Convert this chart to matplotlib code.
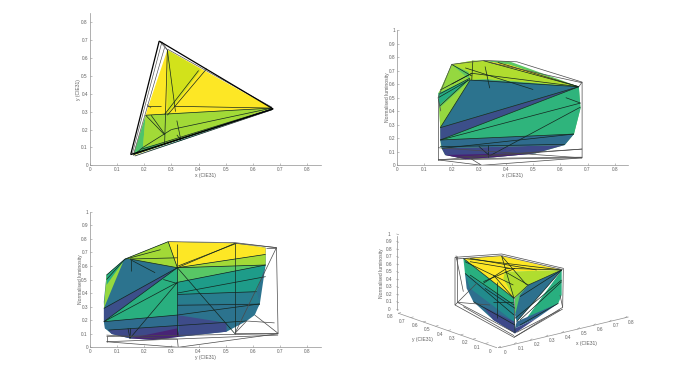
"""
Gamut volume seen from four sides: xy, xz, yz and a 3D view.
"""

import matplotlib
matplotlib.use("Agg")
import matplotlib.pyplot as plt
from matplotlib.collections import LineCollection, PolyCollection

plt.rcParams["font.family"] = ["Liberation Sans", "DejaVu Sans"]

W, H = 694, 390
TEXT = "#606060"
AXIS = "#909090"
EDGE = "#14261f"
HULL = "#4a4a4a"

# top view, x / y
xy_faces = [
    [(.16, .055), (.205, .28), (.215, .33), (.285, .645), (.67, .32)],
    [(.285, .645), (.41, .535), (.285, .285)],
    [(.205, .28), (.285, .29), (.67, .32), (.27, .125), (.195, .10)],
    [(.195, .10), (.27, .125), (.67, .32), (.33, .145), (.17, .065)],
    [(.16, .058), (.205, .28), (.195, .10), (.27, .125), (.17, .065)],
    [(.165, .055), (.67, .315), (.33, .135)],
]
xy_levels = [1.0, .93, .86, .80, .72, .50]
xy_edges = [
    [(.285, .645), (.275, .12)], [(.285, .645), (.315, .30)], [(.40, .53), (.275, .285)],
    [(.43, .54), (.285, .28)], [(.21, .33), (.26, .33)], [(.205, .28), (.67, .32)],
    [(.31, .33), (.67, .32)], [(.205, .28), (.275, .17)], [(.225, .28), (.275, .175)],
    [(.195, .10), (.30, .20)], [(.30, .20), (.67, .32)], [(.16, .06), (.67, .315)],
    [(.17, .065), (.67, .315)], [(.19, .09), (.67, .315)], [(.32, .25), (.335, .14)],
    [(.32, .17), (.335, .14)], [(.165, .052), (.67, .31)], [(.16, .055), (.195, .10)],
]
xy_inner = [
    [(.265, .69), (.285, .645)], [(.265, .69), (.155, .06)], [(.275, .66), (.16, .06)],
    [(.255, .695), (.285, .645)], [(.21, .34), (.225, .32)], [(.285, .65), (.67, .325)],
]
xy_hull = [
    [(.255, .695), (.675, .315)], [(.675, .315), (.15, .06)], [(.15, .06), (.255, .695)],
]

# side view, x / luminosity
xz_faces = [
    [(.158, .556), (.20, .746), (.278, .773), (.41, .77), (.668, .581), (.674, .421),
     (.65, .231), (.616, .15), (.508, .088), (.354, .059), (.25, .046), (.176, .076),
     (.16, .138), (.158, .285), (.151, .532)],
    [(.158, .278), (.268, .63), (.33, .635), (.668, .581)],
    [(.158, .278), (.668, .581), (.158, .187)],
    [(.158, .187), (.668, .581), (.674, .421), (.65, .231)],
    [(.158, .187), (.65, .231), (.616, .15), (.164, .125)],
    [(.164, .125), (.616, .15), (.508, .088), (.354, .059), (.25, .046), (.176, .076), (.16, .138)],
    [(.176, .076), (.35, .085), (.508, .088), (.354, .059), (.25, .046)],
    [(.158, .278), (.154, .421), (.268, .63)],
    [(.151, .532), (.268, .638), (.154, .445)],
    [(.158, .556), (.20, .746), (.262, .64), (.151, .532)],
    [(.20, .746), (.278, .773), (.317, .773), (.668, .581), (.33, .635), (.268, .63), (.262, .69)],
    [(.317, .773), (.41, .745), (.668, .581), (.47, .69)],
    [(.268, .638), (.668, .581), (.33, .635)],
]
xz_levels = [.75, .38, .24, .65, .35, .22, .09, .84, .62, .84, .88, 1.0, .74]
xz_edges = [
    [(.158, .278), (.668, .581)], [(.158, .187), (.668, .581)], [(.158, .187), (.65, .231)],
    [(.164, .125), (.65, .231)], [(.158, .187), (.674, .46)], [(.34, .07), (.674, .43)],
    [(.158, .278), (.268, .63)], [(.268, .63), (.668, .581)], [(.20, .60), (.274, .68)],
    [(.274, .68), (.668, .581)], [(.278, .773), (.274, .63)], [(.20, .746), (.274, .66)],
    [(.323, .73), (.34, .57)], [(.25, .72), (.50, .56)], [(.317, .773), (.668, .581)],
    [(.37, .76), (.668, .581)], [(.151, .50), (.268, .635)], [(.158, .556), (.274, .68)],
    [(.30, .14), (.34, .07)], [(.335, .15), (.335, .06)], [(.62, .50), (.674, .46)],
    [(.157, .44), (.26, .63)], [(.157, .138), (.616, .155)], [(.158, .53), (.268, .645)],
]
xz_hull = [
    [(.15, .50), (.20, .746), (.32, .775), (.44, .765), (.68, .615), (.68, .055)],
    [(.15, .50), (.15, .04)], [(.15, .04), (.31, 0)], [(.31, 0), (.68, .055)],
    [(.15, .04), (.68, .12)], [(.15, .04), (.68, .055)], [(.15, .13), (.68, .055)],
    [(.22, .06), (.68, .12)], [(.27, .05), (.68, .06)], [(.34, .76), (.68, .61)],
    [(.31, 0), (.27, .05)], [(.68, .615), (.668, .581)], [(.15, .50), (.16, .40)],
]

# side view, y / luminosity
yz_faces = [
    [(.061, .533), (.129, .651), (.288, .779), (.534, .767), (.647, .735), (.647, .607),
     (.626, .324), (.607, .238), (.577, .194), (.503, .115), (.331, .078), (.233, .054),
     (.147, .066), (.08, .098), (.055, .140), (.051, .336)],
    [(.288, .779), (.534, .767), (.647, .735), (.647, .685), (.322, .587)],
    [(.322, .587), (.647, .685), (.647, .607)],
    [(.322, .587), (.647, .607), (.322, .479)],
    [(.322, .479), (.647, .607), (.614, .41), (.322, .39)],
    [(.322, .39), (.614, .41), (.626, .324), (.322, .32)],
    [(.322, .31), (.626, .318), (.577, .194), (.322, .238)],
    [(.051, .287), (.147, .651), (.322, .587)],
    [(.051, .287), (.322, .587), (.051, .189)],
    [(.051, .189), (.322, .587), (.322, .238)],
    [(.051, .189), (.322, .238), (.322, .159), (.068, .127), (.055, .140)],
    [(.322, .238), (.503, .18), (.503, .115), (.331, .078)],
    [(.068, .127), (.322, .159), (.322, .09), (.147, .066), (.08, .098)],
    [(.147, .066), (.322, .14), (.331, .078), (.233, .054)],
    [(.051, .287), (.061, .533), (.122, .63)],
    [(.061, .533), (.129, .651), (.061, .46)],
    [(.129, .651), (.288, .779), (.322, .587), (.147, .651)],
]
yz_levels = [.38, 1.0, .86, .74, .55, .42, .38, .38, .24, .63, .35, .23, .22, .10, .84, .62, .86]
yz_edges = [
    [(.051, .287), (.322, .587)], [(.051, .189), (.322, .587)], [(.051, .189), (.322, .238)],
    [(.322, .238), (.626, .32)], [(.068, .127), (.577, .194)], [(.147, .066), (.322, .479)],
    [(.051, .189), (.322, .479)], [(.322, .39), (.614, .41)], [(.322, .31), (.626, .318)],
    [(.322, .40), (.647, .521)], [(.322, .479), (.647, .607)], [(.322, .587), (.647, .607)],
    [(.322, .587), (.647, .685)], [(.322, .587), (.534, .767)], [(.325, .6), (.54, .767)],
    [(.322, .76), (.322, .08)], [(.534, .767), (.534, .10)], [(.288, .779), (.322, .587)],
    [(.129, .651), (.288, .779)], [(.147, .651), (.322, .587)], [(.15, .645), (.24, .55)],
    [(.15, .645), (.15, .56)], [(.13, .65), (.26, .72)], [(.322, .587), (.534, .10)],
    [(.14, .14), (.147, .066)], [(.147, .066), (.15, .14)], [(.27, .50), (.322, .47)],
    [(.061, .533), (.129, .651)], [(.061, .50), (.129, .651)], [(.147, .651), (.322, .66)],
]
yz_hull = [
    [(.288, .779), (.534, .772), (.687, .735), (.693, .10)],
    [(.061, .041), (.325, 0), (.693, .10)], [(.061, .041), (.061, .08)],
    [(.061, .041), (.693, .09)], [(.061, .08), (.693, .10)], [(.534, .103), (.693, .10)],
    [(.687, .735), (.534, .103)], [(.607, .238), (.693, .103)], [(.534, .103), (.577, .194)],
    [(.061, .09), (.322, .06)], [(.322, .06), (.325, 0)], [(.577, .194), (.68, .18)],
    [(.647, .735), (.687, .735)], [(.534, .767), (.687, .735)],
]

# 3D view, faces already projected on the view plane
view_faces = [
    [(280, 100), (395, 93), (575, 135), (420, 140), (432, 220)],
    [(405, 140), (575, 135), (475, 180), (432, 220), (400, 160)],
    [(435, 220), (470, 185), (435, 270)],
    [(285, 145), (432, 270), (435, 325), (370, 285), (310, 230), (290, 190)],
    [(280, 100), (432, 220), (432, 270), (285, 145)],
    [(285, 145), (432, 240), (432, 290), (300, 190)],
    [(340, 245), (432, 290), (435, 325), (370, 285)],
    [(475, 180), (575, 135), (440, 290), (435, 270), (450, 210)],
    [(575, 135), (575, 210), (565, 235), (455, 300)],
    [(440, 290), (565, 235), (500, 280), (435, 310)],
    [(435, 310), (500, 280), (435, 325)],
]
view_levels = [1.0, .88, .74, .36, .63, .48, .22, .37, .63, .33, .22]
view_edges = [
    [(280, 100), (575, 135)], [(280, 100), (432, 220)], [(395, 93), (432, 220)],
    [(410, 130), (575, 135)], [(410, 130), (340, 175)], [(370, 150), (432, 220)],
    [(475, 180), (575, 135)], [(432, 220), (475, 180)], [(432, 220), (435, 325)],
    [(285, 145), (432, 270)], [(310, 230), (435, 300)], [(380, 170), (380, 280)],
    [(450, 215), (575, 135)], [(435, 280), (575, 165)], [(450, 285), (575, 170)],
    [(300, 110), (420, 130)], [(340, 170), (435, 130)], [(395, 93), (470, 180)],
    [(345, 190), (435, 250)], [(370, 230), (430, 230)], [(285, 110), (430, 180)],
    [(300, 150), (432, 240)], [(300, 100), (500, 135)], [(440, 290), (575, 135)],
    [(450, 300), (565, 235)], [(405, 140), (475, 180)],
]
view_hull = [
    [(255, 97), (395, 87), (580, 130), (578, 247), (432, 337), (255, 240), (255, 97)],
    [(258, 92), (280, 200)], [(255, 240), (320, 175)], [(262, 232), (432, 322)],
    [(262, 232), (360, 240)], [(440, 322), (570, 255)], [(258, 102), (395, 92)],
    [(395, 92), (578, 134)], [(280, 245), (432, 332)], [(432, 337), (578, 252)],
    [(578, 247), (570, 210)], [(262, 92), (262, 232)],
]

x_ticks = [0, .1, .2, .3, .4, .5, .6, .7, .8]
y_ticks = [0, .1, .2, .3, .4, .5, .6, .7, .8]
z_ticks = [0, .1, .2, .3, .4, .5, .6, .7, .8, .9, 1]


def add_axes(fig, left, top, right, bottom):
    return fig.add_axes([left / W, 1 - bottom / H, (right - left) / W, (bottom - top) / H])


def draw_flat(ax, faces, levels, edges, hulls, hull_width=.5):
    ax.add_collection(PolyCollection(faces, array=levels, cmap="viridis", clim=(0, 1),
                                     edgecolors="none", zorder=2))
    ax.add_collection(LineCollection(edges, colors=EDGE, linewidths=.5, zorder=3))
    ax.add_collection(LineCollection(hulls, colors=HULL, linewidths=hull_width, zorder=4))


def style_axes(ax, xlabel, ylabel, xlim, ylim, xticks, yticks, ypad=.5):
    ax.set_xlim(xlim)
    ax.set_ylim(ylim)
    ax.set_xticks(xticks, [f"{t:g}" for t in xticks])
    ax.set_yticks(yticks, [f"{t:g}" for t in yticks])
    ax.tick_params(direction="in", length=1.5, width=.4, labelsize=3.4, pad=1.5,
                   colors=AXIS, labelcolor=TEXT)
    ax.set_xlabel(xlabel, fontsize=3.6, color=TEXT, labelpad=.5)
    ax.set_ylabel(ylabel, fontsize=3.6, color=TEXT, labelpad=ypad)
    for side in ["top", "right"]:
        ax.spines[side].set_visible(False)
    for side in ["left", "bottom"]:
        ax.spines[side].set_color(AXIS)
        ax.spines[side].set_linewidth(.5)


def project(x, y):
    # view plane position of a floor value
    return 385 + 475 * x - 375 * y, 368 - 112 * x - 129 * y


def draw_view_axes(ax):
    corner = project(0, 0)
    x_end = project(.82, 0)
    y_end = project(0, .8)
    ax.plot([corner[0] + 5, x_end[0]], [corner[1], x_end[1]], color=AXIS, lw=.5)
    ax.plot([corner[0] - 5, y_end[0]], [corner[1], y_end[1]], color=AXIS, lw=.5)
    ax.plot([80, 80], [255, 32], color=AXIS, lw=.5)
    for t in x_ticks:
        u, v = project(t, 0)
        ax.plot([u, u + 6], [v, v - 4], color=AXIS, lw=.4)
        ax.text(u + 20, v + 13, f"{t:g}", fontsize=3.4, color=TEXT, ha="center", va="center")
    for t in y_ticks:
        u, v = project(0, t)
        ax.plot([u, u + 7], [v, v - 2], color=AXIS, lw=.4)
        ax.text(u - 25, v + 11, f"{t:g}", fontsize=3.4, color=TEXT, ha="center", va="center")
    for t in z_ticks:
        v = 253 - 226 * t
        ax.plot([80, 86], [v, v + 2], color=AXIS, lw=.4)
        ax.text(57, v, f"{t:g}", fontsize=3.4, color=TEXT, ha="center", va="center")
    ax.text(648, 357, "x (CIE31)", fontsize=3.6, color=TEXT, ha="center", va="center")
    ax.text(158, 342, "y (CIE31)", fontsize=3.6, color=TEXT, ha="center", va="center")
    ax.text(34, 145, "Normalised luminosity", fontsize=3.6, color=TEXT, ha="center", va="center",
            rotation=90)


fig = plt.figure(figsize=(W / 100, H / 100), dpi=100, facecolor="white")

ax1 = add_axes(fig, 90, 13.3, 320.7, 165.3)
draw_flat(ax1, xy_faces, xy_levels, xy_edges, xy_inner, hull_width=.45)
ax1.add_collection(LineCollection(xy_hull, colors="black", linewidths=.9, zorder=5))
style_axes(ax1, "x (CIE31)", "y (CIE31)", (0, .85), (0, .85), x_ticks, y_ticks)

ax2 = add_axes(fig, 397.3, 30, 628.3, 165.3)
draw_flat(ax2, xz_faces, xz_levels, xz_edges, xz_hull)
style_axes(ax2, "x (CIE31)", "Normalised luminosity", (0, .85), (0, 1), x_ticks, z_ticks, ypad=-1)

ax3 = add_axes(fig, 90, 211.7, 320.7, 347.3)
draw_flat(ax3, yz_faces, yz_levels, yz_edges, yz_hull)
style_axes(ax3, "y (CIE31)", "Normalised luminosity", (0, .85), (0, 1), y_ticks, z_ticks, ypad=-1)

ax4 = add_axes(fig, 370, 225, 630, 380)
ax4.set_xlim(0, 780)
ax4.set_ylim(465, 0)
ax4.axis("off")
draw_flat(ax4, view_faces, view_levels, view_edges, view_hull)
draw_view_axes(ax4)

fig.savefig("out.png", dpi=100, facecolor="white")
plt.close(fig)
